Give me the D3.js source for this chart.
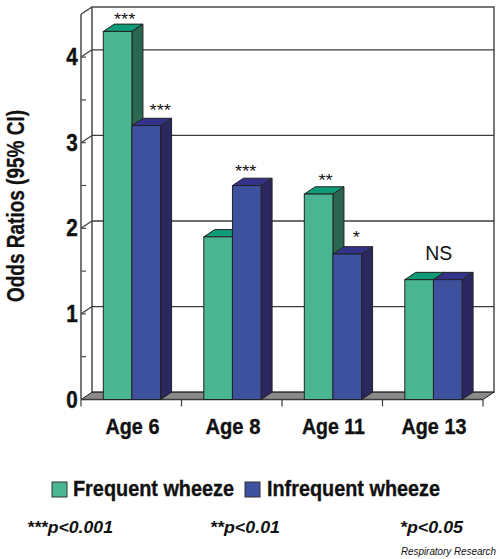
<!DOCTYPE html>
<html><head><meta charset="utf-8">
<script src="https://cdnjs.cloudflare.com/ajax/libs/d3/7.8.5/d3.min.js"></script>
<style>html,body{margin:0;padding:0;background:#fff}svg{display:block}text{font-family:"Liberation Sans",Arial,sans-serif;fill:#111}</style>
</head><body><div id="c"></div>
<script>
const categories = ["Age 6","Age 8","Age 11","Age 13"];
const seriesNames = ["Frequent wheeze","Infrequent wheeze"];
const frequentWheeze = [4.3,1.9,2.4,1.4];
const infrequentWheeze = [3.2,2.5,1.7,1.4];
const frequentSig = ["***","","**",""];
const infrequentSig = ["***","***","*","NS"];
const yTicks = [0,1,2,3,4];
const footnotes = ["***p<0.001","**p<0.01","*p<0.05"];
const credit = "Respiratory Research";

const W=500,H=559,dx=11,dy=7.3;
const svg=d3.select("#c").append("svg").attr("width",W).attr("height",H);
const y=d3.scaleLinear().domain([0,4.5]).range([399.5,14.3]);
const xTick=d3.scaleBand().domain(categories).range([81,483]);
const x0=d3.scaleBand().domain(categories).range([81,483]).paddingInner(0.43).paddingOuter(0.215).align(0.516);
const x1=d3.scaleBand().domain(seriesNames).range([0,x0.bandwidth()]);
const ln="#3c3c3c";
const colors={[seriesNames[0]]:{f:"#49b592",t:"#0f9a78",s:"#2a6650"},[seriesNames[1]]:{f:"#3e519f",t:"#33338c",s:"#2b2860"}};
const line=(a,b,c,d,w=1.4,col=ln)=>svg.append("line").attr("x1",a).attr("y1",b).attr("x2",c).attr("y2",d).attr("stroke",col).attr("stroke-width",w);
const poly=(pts,fill,g=svg)=>g.append("polygon").attr("points",pts.map(p=>p.join(",")).join(" ")).attr("fill",fill).attr("stroke","#222").attr("stroke-width",1).attr("stroke-linejoin","round");
const xL=81,xR=483,y0=y(0),yT=y(4.5);
// back wall
svg.append("rect").attr("x",xL+dx).attr("y",yT-dy).attr("width",xR-xL).attr("height",y0-yT).attr("fill","#fff").attr("stroke","#555").attr("stroke-width",1.6);
// floor
poly([[xL,y0],[xR,y0],[xR+dx,y0-dy],[xL+dx,y0-dy]],"#8a8a8a");
// gridlines
yTicks.slice(1).forEach(t=>{line(xL+dx,y(t)-dy,xR+dx,y(t)-dy,1.3);line(xL,y(t),xL+dx,y(t)-dy,1.2);});
line(xL,yT,xL+dx,yT-dy,1.3);
// axis ticks
[0.5,1.5,2.5,3.5].forEach(t=>line(xL,y(t),xL+5,y(t),1.1));
yTicks.forEach(t=>line(xL,y(t),xL+5,y(t),1.1));
line(xL,y0,xL,yT,1.6,"#555");
line(xL,y0,xR,y0,1.4);
xTick.domain().forEach(c=>line(xTick(c),y0,xTick(c),y0+7,1.2));
line(xR,y0,xR,y0+7,1.2);
// bars
function bar(c,name,v){
  const xa=x0(c)+x1(name),xb=xa+x1.bandwidth(),top=y(v),col=colors[name];
  poly([[xb,top],[xb+dx,top-dy],[xb+dx,y0-dy],[xb,y0]],col.s);
  poly([[xa,top],[xa+dx,top-dy],[xb+dx,top-dy],[xb,top]],col.t);
  svg.append("rect").attr("x",xa).attr("y",top).attr("width",xb-xa).attr("height",y0-top).attr("fill",col.f).attr("stroke","#222").attr("stroke-width",1);
}
categories.forEach((c,i)=>{bar(c,seriesNames[0],frequentWheeze[i]);bar(c,seriesNames[1],infrequentWheeze[i]);});
// narrow text helper
function T(s,x,yy,size,len,o={}){
  const t=svg.append("text").attr("x",x).attr("y",yy).attr("font-size",size).attr("font-weight",o.w||"bold").attr("font-style",o.i?"italic":"normal").attr("text-anchor",o.a||"middle").text(s);
  if(len)t.attr("textLength",len).attr("lengthAdjust","spacingAndGlyphs");
  if(o.heavy)t.attr("stroke","#111").attr("stroke-width",o.heavy);
  return t;
}
// significance labels
const nudgeF=[[7,3],[0,0],[7,1],[0,0]];
const nudgeI=[[14,-1],[-1,0],[9,-2],[-9,0]];
function sig(c,name,lab,v,n){
  if(!lab)return;
  const cx=x0(c)+x1(name)+x1.bandwidth()/2+n[0];
  if(lab==="NS") T(lab,cx,y(v)-20,19.5,27,{w:"normal"});
  else T(lab,cx,y(v)-9+n[1],17,lab.length*7.1,{w:"normal"});
}
categories.forEach((c,i)=>{
  sig(c,seriesNames[0],frequentSig[i],frequentWheeze[i],nudgeF[i]);
  sig(c,seriesNames[1],infrequentSig[i],infrequentWheeze[i],nudgeI[i]);
});
// y tick labels
yTicks.forEach(t=>T(String(t),72,y(t)+8,23,11.5,{heavy:0.4}));
// category labels
const catLen=[54,55,63,65];
categories.forEach((c,i)=>T(c,x0(c)+x0.bandwidth()/2+0.5,433.5,22.5,catLen[i],{heavy:0.35}));
// y title
svg.append("text").attr("transform","translate(23.5,206) rotate(-90)").attr("text-anchor","middle").attr("font-size",23.5).attr("font-weight","bold").attr("stroke","#111").attr("stroke-width",0.3).attr("textLength",192).attr("lengthAdjust","spacingAndGlyphs").text("Odds Ratios (95% CI)");
// legend
const lx=[52,245],tx=[73,267],tl=[161,173];
seriesNames.forEach((n,i)=>{
  svg.append("rect").attr("x",lx[i]).attr("y",482).attr("width",15).attr("height",15).attr("fill",colors[n].f).attr("stroke","#333").attr("stroke-width",1);
  T(n,tx[i],496,22,tl[i],{a:"start",heavy:0.35});
});
// footnotes
const fx=[27,210,400],fl=[86,70,63];
footnotes.forEach((f,i)=>T(f,fx[i],533,16.5,fl[i],{a:"start",i:true}));
T(credit,401,555,10,95,{a:"start",i:true,w:"normal"});
</script></body></html>
